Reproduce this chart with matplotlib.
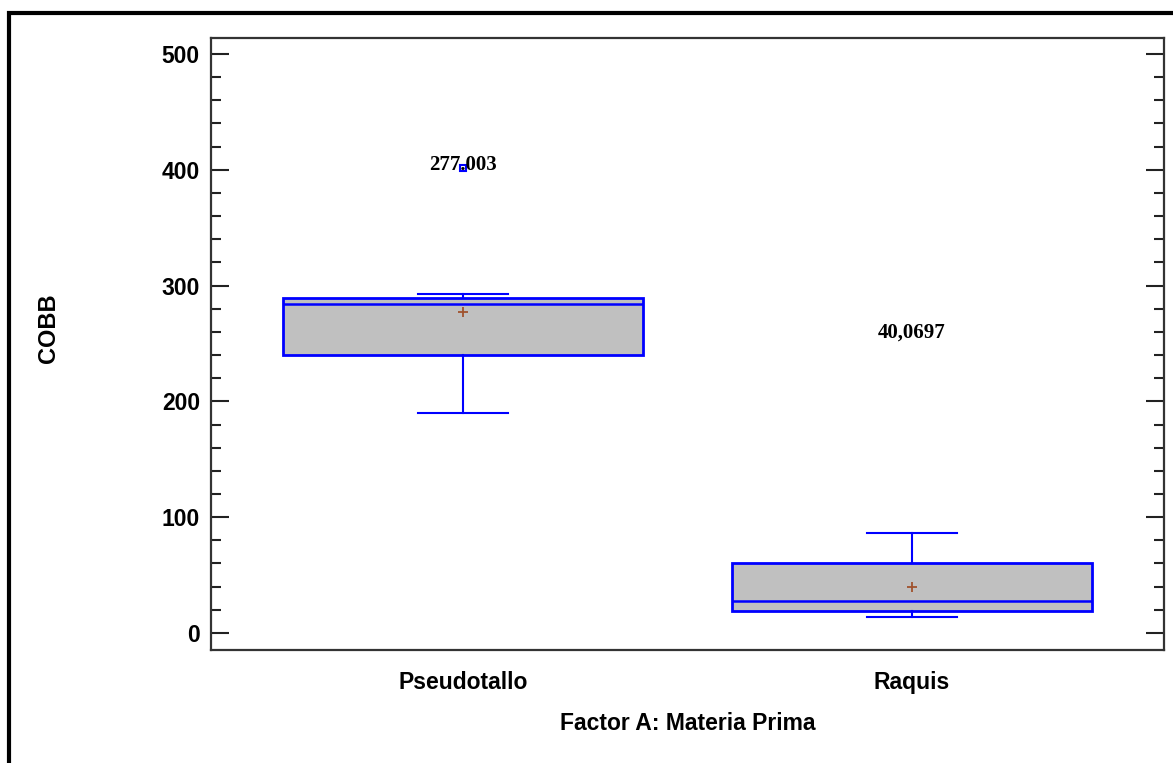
import matplotlib.pyplot as plt
from matplotlib.patches import Rectangle
from matplotlib.ticker import MultipleLocator

# COBB por materia prima (resumen de cajas)
categories = ['Pseudotallo', 'Raquis']
q1 = [240.0, 19.0]
med = [284.0, 27.6]
q3 = [289.3, 60.7]
whislo = [189.7, 13.5]
whishi = [292.5, 86.6]
means = [277.003, 40.0697]
fliers = [[401.6], []]
mean_labels = ['277.003', '40,0697']
label_y = [404, 259]

sans = ['Liberation Sans', 'DejaVu Sans']

fig = plt.figure(figsize=(11.73, 7.63), dpi=100)
ax = fig.add_axes([211/1173, 1 - 650/763, 953/1173, 612/763])

stats = []
for i in range(len(categories)):
    stats.append(dict(q1=q1[i], med=med[i], q3=q3[i], whislo=whislo[i],
                      whishi=whishi[i], mean=means[i], fliers=fliers[i],
                      label=categories[i]))

pos = [1, 2]
ax.bxp(stats, positions=pos, widths=0.8, capwidths=0.2, showmeans=True,
       patch_artist=True,
       boxprops=dict(facecolor='#c0c0c0', edgecolor='#0000ff', linewidth=2.0),
       medianprops=dict(color='#0000ff', linewidth=1.8),
       whiskerprops=dict(color='#0000ff', linewidth=1.5),
       capprops=dict(color='#0000ff', linewidth=1.5),
       meanprops=dict(marker='+', markeredgecolor='#a0522d', markersize=7,
                      markeredgewidth=1.3),
       flierprops=dict(marker='s', markeredgecolor='#0000ff',
                       markerfacecolor='none', markersize=5,
                       markeredgewidth=1.5))

for x, y, t in zip(pos, label_y, mean_labels):
    ax.text(x, y, t, ha='center', va='center', fontsize=15,
            family='Liberation Serif', fontweight='bold', zorder=5)

ax.set_xlim(0.4388, 2.561)
ax.set_ylim(-14.7, 513.8)
ax.yaxis.set_major_locator(MultipleLocator(100))
ax.yaxis.set_minor_locator(MultipleLocator(20))
ax.set_xticks(pos)
ax.set_xticklabels(categories)

ax.tick_params(axis='y', which='both', direction='in', left=True, right=True,
               width=1.5, color='#222222')
ax.tick_params(axis='y', which='major', length=13, pad=8)
ax.tick_params(axis='y', which='minor', length=7)
ax.tick_params(axis='x', length=0, pad=15)
for lab in ax.get_xticklabels() + ax.get_yticklabels():
    lab.set_family(sans)
    lab.set_fontweight('bold')
    lab.set_fontsize(16.5)

for s in ax.spines.values():
    s.set_linewidth(1.6)
    s.set_color('#333333')

ax.set_xlabel('Factor A: Materia Prima', family=sans, fontweight='bold',
              fontsize=16.5, labelpad=13)
ax.set_ylabel('COBB', family=sans, fontweight='bold', fontsize=17)
ax.yaxis.set_label_coords(-0.158, 0.526)

# marco exterior
fig.patches.append(Rectangle((9/1173, -0.2), 1.2, 1.2 - 13/763,
                             transform=fig.transFigure, fill=False,
                             edgecolor='black', linewidth=3, clip_on=False))

fig.savefig('out.png', dpi=100)
